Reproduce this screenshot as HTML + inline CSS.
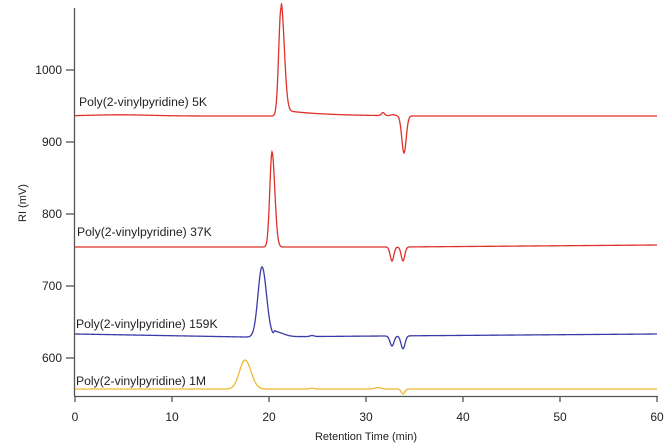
<!DOCTYPE html>
<html><head><meta charset="utf-8"><style>
html,body{margin:0;padding:0;background:#fff;}
svg{display:block;font-family:"Liberation Sans",Arial,sans-serif;}
</style></head><body>
<svg id="s" width="672" height="448" viewBox="0 0 672 448">
<g stroke="#555" stroke-width="1.3" fill="none">
<line x1="74.5" y1="8" x2="74.5" y2="396"/>
<line x1="74" y1="396.5" x2="658" y2="396.5"/>
<line x1="66" y1="70" x2="74" y2="70"/>
<line x1="66" y1="142" x2="74" y2="142"/>
<line x1="66" y1="214" x2="74" y2="214"/>
<line x1="66" y1="286" x2="74" y2="286"/>
<line x1="66" y1="358" x2="74" y2="358"/>
<line x1="75" y1="396" x2="75" y2="402"/>
<line x1="172" y1="396" x2="172" y2="402"/>
<line x1="269" y1="396" x2="269" y2="402"/>
<line x1="366" y1="396" x2="366" y2="402"/>
<line x1="463" y1="396" x2="463" y2="402"/>
<line x1="560" y1="396" x2="560" y2="402"/>
<line x1="657" y1="396" x2="657" y2="402"/>
</g>
<g font-size="12" fill="#222" text-anchor="end">
<text x="62" y="74">1000</text><text x="62" y="146">900</text><text x="62" y="218">800</text><text x="62" y="290">700</text><text x="62" y="362">600</text>
</g>
<g font-size="12" fill="#222" text-anchor="middle">
<text x="75" y="421">0</text><text x="172" y="421">10</text><text x="269" y="421">20</text><text x="366" y="421">30</text><text x="463" y="421">40</text><text x="560" y="421">50</text><text x="657" y="421">60</text>
<text x="366" y="440" font-size="11">Retention Time (min)</text>
<text transform="translate(26,203) rotate(-90)" font-size="11">RI (mV)</text>
</g>
<g font-size="12.2" fill="#222">
<text x="79" y="106">Poly(2-vinylpyridine) 5K</text>
<text x="77" y="236">Poly(2-vinylpyridine) 37K</text>
<text x="76" y="328">Poly(2-vinylpyridine) 159K</text>
<text x="76" y="385">Poly(2-vinylpyridine) 1M</text>
</g>
<path id="p1" fill="none" stroke="#e0302a" stroke-width="1.3"/>
<path id="p2" fill="none" stroke="#e0302a" stroke-width="1.3"/>
<path id="p3" fill="none" stroke="#3a3aa8" stroke-width="1.3"/>
<path id="p4" fill="none" stroke="#f0b830" stroke-width="1.3"/>
</svg>
<script>
function g(x,c,w){return Math.exp(-0.5*((x-c)/w)*((x-c)/w));}
function asym(x,c,wl,wr){return x<c?g(x,c,wl):g(x,c,wr);}
function mk(id,f){var d="";for(var x=75;x<=657;x+=0.5){d+=(x==75?"M":"L")+x.toFixed(1)+","+f(x).toFixed(2);}document.getElementById(id).setAttribute("d",d);}
mk("p1",function(x){var b=116-1.2*g(x,120,30);
 var tail=x>281?-6*Math.exp(-(x-281)/40)*(x<400?1:0):0;
 return b - 108*asym(x,281,2.3,3.2) + tail -3*g(x,383,1.5) -1*g(x,393,2) + 37*g(x,404,2.2);});
mk("p2",function(x){var b=247-2*(x-400)/257*(x>400?1:0);
 return b - 95*asym(x,272,2.2,2.8) + 14*g(x,392,1.8) + 14*g(x,403,1.8);});
mk("p3",function(x){var b=334+3*(x-75)/170*(x<245?1:0)+(x>=245?3-3*(x-245)/412:0);
 return b - 70*asym(x,262,4,4.5) -5*asym(x,275,1,8)*(x>262?1:0) + 10*g(x,392,2) + 13*g(x,403,2) -1*g(x,312,2);});
mk("p4",function(x){return 389 - 29*asym(x,245,5.5,6) - 1.5*g(x,378,3) + 5*g(x,403,1.8) - 0.8*g(x,312,2);});
</script>
</body></html>
